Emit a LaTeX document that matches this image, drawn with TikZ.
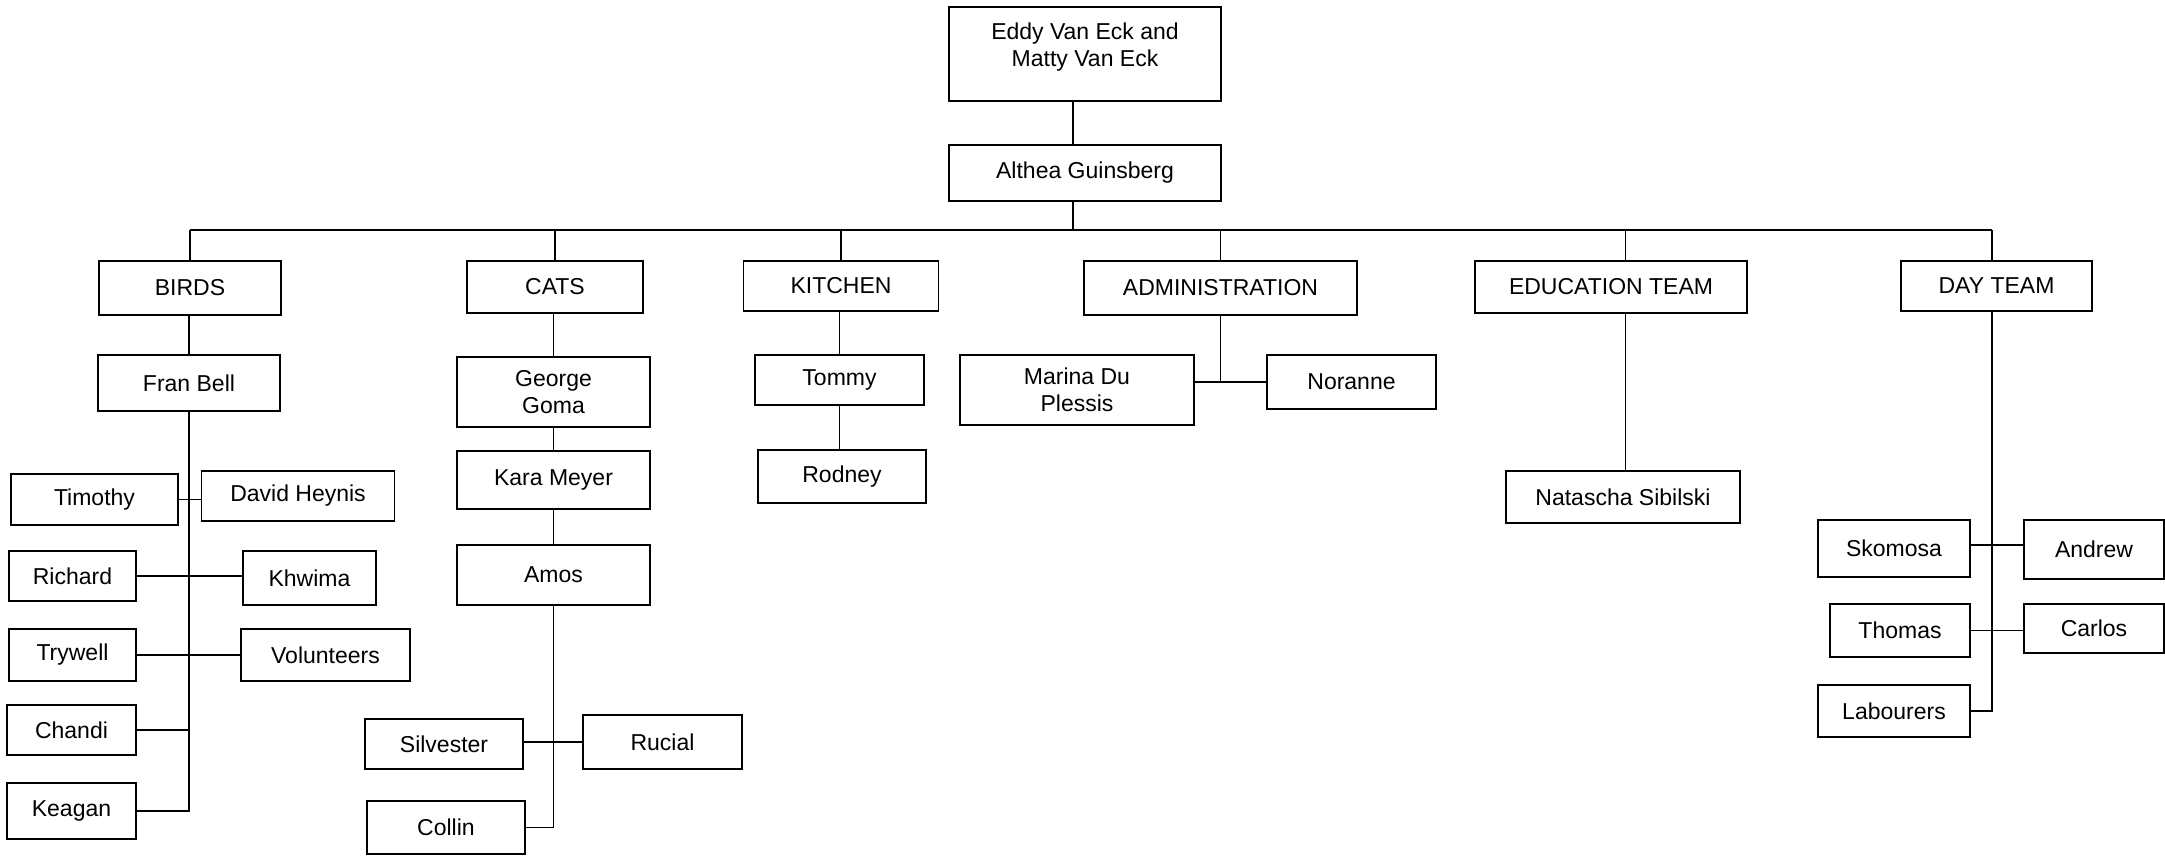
\documentclass[tikz,border=0pt]{standalone}
\usepackage{fontspec}
\setmainfont{Liberation Sans}

\tikzset{
    box/.style = {draw, line width=1.8pt, align=center, inner sep=2pt,
                  font=\fontsize{23}{27}\selectfont},
    link/.style = {line width=1.6pt}
}

\begin{document}
\begin{tikzpicture}[x=1pt, y=-1pt]
    \useasboundingbox (0, 0) rectangle (2165, 855);

    \node [box, minimum width=272pt, minimum height=94pt] (owners) at (1085, 54) {Eddy Van Eck and\\Matty Van Eck\\[-9pt]\mbox{}};
    \node [box, minimum width=272pt, minimum height=56pt] (althea) at (1085, 173) {Althea Guinsberg};

    \node [box, minimum width=182pt, minimum height=54pt] (birds) at (190, 288) {BIRDS};
    \node [box, minimum width=176pt, minimum height=52pt] (cats) at (555, 287) {CATS};
    \node [box, minimum width=195pt, minimum height=50pt] (kitchen) at (841, 286) {KITCHEN};
    \node [box, minimum width=273pt, minimum height=54pt] (admin) at (1220.5, 288) {ADMINISTRATION};
    \node [box, minimum width=272pt, minimum height=52pt] (edu) at (1611, 287) {EDUCATION TEAM};
    \node [box, minimum width=191pt, minimum height=50pt] (day) at (1996.5, 286) {DAY TEAM};

    \node [box, minimum width=182pt, minimum height=56pt] (fran) at (189, 383) {Fran Bell};
    \node [box, minimum width=167pt, minimum height=51pt] (timothy) at (94.5, 499.5) {Timothy};
    \node [box, minimum width=193pt, minimum height=50pt] (david) at (298, 496) {David Heynis};
    \node [box, minimum width=127pt, minimum height=50pt] (richard) at (72.5, 576) {Richard};
    \node [box, minimum width=133pt, minimum height=54pt] (khwima) at (309.5, 578) {Khwima};
    \node [box, minimum width=127pt, minimum height=52pt] (trywell) at (72.5, 655) {Trywell};
    \node [box, minimum width=169pt, minimum height=52pt] (volunteers) at (325.5, 655) {Volunteers};
    \node [box, minimum width=129pt, minimum height=50pt] (chandi) at (71.5, 730) {Chandi};
    \node [box, minimum width=129pt, minimum height=56pt] (keagan) at (71.5, 811) {Keagan};

    \node [box, minimum width=193pt, minimum height=70pt] (george) at (553.5, 392) {George\\Goma};
    \node [box, minimum width=193pt, minimum height=58pt] (kara) at (553.5, 480) {Kara Meyer};
    \node [box, minimum width=193pt, minimum height=60pt] (amos) at (553.5, 575) {Amos};
    \node [box, minimum width=158pt, minimum height=50pt] (silvester) at (444, 744) {Silvester};
    \node [box, minimum width=159pt, minimum height=54pt] (rucial) at (662.5, 742) {Rucial};
    \node [box, minimum width=158pt, minimum height=53pt] (collin) at (446, 827.5) {Collin};

    \node [box, minimum width=169pt, minimum height=50pt] (tommy) at (839.5, 380) {Tommy};
    \node [box, minimum width=168pt, minimum height=53pt] (rodney) at (842, 476.5) {Rodney};

    \node [box, minimum width=234pt, minimum height=70pt] (marina) at (1077, 390) {Marina Du\\Plessis};
    \node [box, minimum width=169pt, minimum height=54pt] (noranne) at (1351.5, 382) {Noranne};

    \node [box, minimum width=234pt, minimum height=52pt] (natascha) at (1623, 497) {Natascha Sibilski};

    \node [box, minimum width=152pt, minimum height=57pt] (skomosa) at (1894, 548.5) {Skomosa};
    \node [box, minimum width=140pt, minimum height=59pt] (andrew) at (2094, 549.5) {Andrew};
    \node [box, minimum width=140pt, minimum height=53pt] (thomas) at (1900, 630.5) {Thomas};
    \node [box, minimum width=140pt, minimum height=49pt] (carlos) at (2094, 628.5) {Carlos};
    \node [box, minimum width=152pt, minimum height=52pt] (labourers) at (1894, 711) {Labourers};

    \coordinate (topstem) at (1073, 0);
    \coordinate (bus) at (1073, 230);
    \coordinate (edustem) at (1625.5, 0);
    \coordinate (daystem) at (1992, 0);

    % top of the tree
    \draw [link] (owners.south -| topstem) -- (althea.north -| topstem);
    \draw [link] (althea.south -| topstem) -- (bus);
    \draw [link] (birds.north |- bus) -- (bus -| daystem);
    \foreach \dept in {birds, cats, kitchen, admin}
        \draw [link] (\dept.north |- bus) -- (\dept.north);
    \draw [link] (bus -| edustem) -- (edu.north -| edustem);
    \draw [link] (bus -| daystem) -- (day.north -| daystem);

    % birds
    \draw [link] (birds.south -| fran.north) -- (fran.north);
    \draw [link] (fran.south) |- (keagan.east);
    \draw [link] (timothy.east) -- (timothy.east -| david.west);
    \draw [link] (richard.east) -- (richard.east -| khwima.west);
    \draw [link] (trywell.east) -- (trywell.east -| volunteers.west);
    \draw [link] (chandi.east) -- (chandi.east -| fran.south);

    % cats
    \draw [link] (cats.south -| george.north) -- (george.north);
    \draw [link] (george.south) -- (kara.north);
    \draw [link] (kara.south) -- (amos.north);
    \draw [link] (amos.south) |- (collin.east);
    \draw [link] (silvester.east |- rucial.west) -- (rucial.west);

    % kitchen
    \draw [link] (kitchen.south -| tommy.south) -- (tommy.north);
    \draw [link] (tommy.south) -- (tommy.south |- rodney.north);

    % administration
    \draw [link] (admin.south) -- (admin.south |- noranne.west);
    \draw [link] (marina.east |- noranne.west) -- (noranne.west);

    % education and day team
    \draw [link] (edu.south -| edustem) -- (natascha.north -| edustem);
    \draw [link] (day.south -| daystem) |- (labourers.east);
    \draw [link] (skomosa.east |- 1894, 545) -- (andrew.west |- 1894, 545);
    \draw [link] (thomas.east) -- (thomas.east -| carlos.west);
\end{tikzpicture}
\end{document}
